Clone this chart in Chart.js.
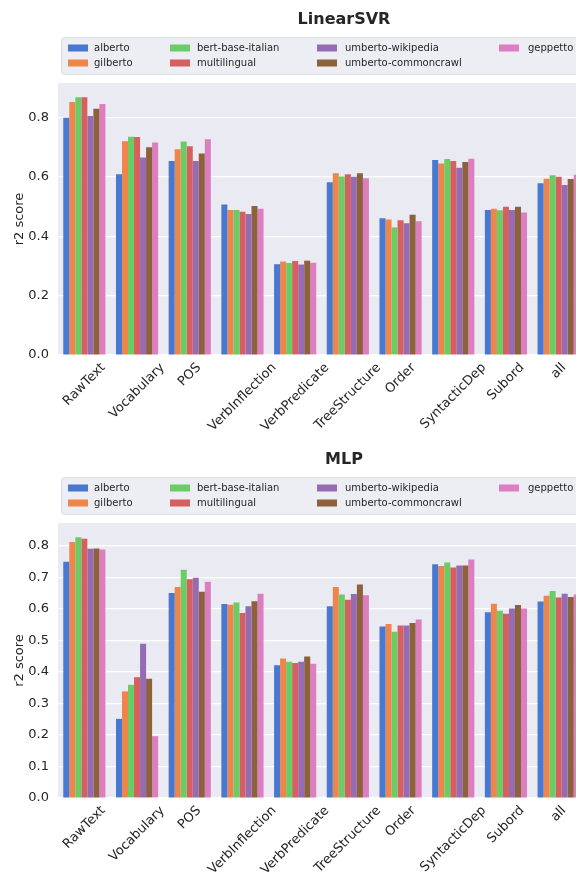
<!DOCTYPE html>
<html>
<head>
<meta charset="utf-8">
<script src="https://cdn.jsdelivr.net/npm/chart.js@4/dist/chart.umd.min.js"></script>
<style>
    html, body { margin:0; padding:0; background:#fff; overflow:hidden; }
    #page { position:relative; width:576px; height:876px; overflow:hidden; }
    #page canvas { position:absolute; left:0; }
</style>
</head>
<body>
<div id="page">
    <canvas id="svrChart" width="600" height="440" style="top:0px"></canvas>
    <canvas id="mlpChart" width="600" height="436" style="top:440px"></canvas>
</div>
<script>
const categories = ['RawText','Vocabulary','POS','VerbInflection','VerbPredicate','TreeStructure','Order','SyntacticDep','Subord','all']
const models = ['alberto','gilberto','bert-base-italian','multilingual','umberto-wikipedia','umberto-commoncrawl','geppetto']
const modelColors = ['#4878D0','#EE854A','#6ACC64','#D65F5F','#956CB4','#8C613C','#DC7EC0']

// LinearSVR r2 scores, one array per model
const svrAlberto   = [0.800, 0.609, 0.654, 0.507, 0.306, 0.582, 0.461, 0.657, 0.489, 0.579]
const svrGilberto  = [0.853, 0.721, 0.694, 0.489, 0.315, 0.613, 0.457, 0.646, 0.493, 0.594]
const svrBert      = [0.869, 0.736, 0.720, 0.489, 0.310, 0.602, 0.430, 0.661, 0.488, 0.606]
const svrMulti     = [0.869, 0.735, 0.704, 0.483, 0.317, 0.609, 0.454, 0.654, 0.500, 0.601]
const svrUmbWiki   = [0.806, 0.666, 0.654, 0.475, 0.305, 0.601, 0.444, 0.631, 0.489, 0.573]
const svrUmbCC     = [0.830, 0.700, 0.679, 0.502, 0.318, 0.613, 0.473, 0.651, 0.500, 0.593]
const svrGeppetto  = [0.846, 0.716, 0.727, 0.493, 0.311, 0.596, 0.451, 0.662, 0.480, 0.608]

// MLP r2 scores
const mlpAlberto   = [0.749, 0.251, 0.650, 0.615, 0.421, 0.608, 0.544, 0.741, 0.589, 0.623]
const mlpGilberto  = [0.812, 0.338, 0.669, 0.613, 0.442, 0.669, 0.552, 0.736, 0.616, 0.641]
const mlpBert      = [0.827, 0.359, 0.724, 0.620, 0.432, 0.645, 0.527, 0.747, 0.594, 0.656]
const mlpMulti     = [0.822, 0.383, 0.694, 0.587, 0.428, 0.629, 0.547, 0.731, 0.584, 0.636]
const mlpUmbWiki   = [0.790, 0.489, 0.698, 0.608, 0.432, 0.647, 0.547, 0.737, 0.601, 0.648]
const mlpUmbCC     = [0.791, 0.378, 0.654, 0.624, 0.449, 0.677, 0.555, 0.737, 0.612, 0.637]
const mlpGeppetto  = [0.788, 0.196, 0.686, 0.648, 0.426, 0.643, 0.566, 0.756, 0.601, 0.645]

const svrTicks = [0.0, 0.2, 0.4, 0.6, 0.8]
const mlpTicks = [0.0, 0.1, 0.2, 0.3, 0.4, 0.5, 0.6, 0.7, 0.8]

const textColor = '#262626'
const font = 'DejaVu Sans'

// draws plot background, title, legend box, rotated x labels and y title
const decorPlugin = {
    id: 'decor',
    beforeDraw(chart, args, opts) {
        const {ctx, chartArea} = chart
        ctx.save()
        ctx.fillStyle = '#EAEAF2'
        ctx.fillRect(chartArea.left, chartArea.top, chartArea.right - chartArea.left, chartArea.bottom - chartArea.top)
        ctx.restore()
    },
    afterDraw(chart, args, opts) {
        const {ctx, chartArea} = chart
        ctx.save()

        // title
        ctx.fillStyle = textColor
        ctx.font = `bold 16px "${font}"`
        ctx.textAlign = 'center'
        ctx.textBaseline = 'middle'
        ctx.fillText(opts.title, 344, opts.titleY)

        // legend frame
        const boxTop = opts.legendY
        ctx.fillStyle = '#EDEDF4'
        ctx.strokeStyle = '#DCDCE3'
        ctx.lineWidth = 1
        ctx.beginPath()
        ctx.roundRect(61.5, boxTop + 0.5, 560, 37, 3)
        ctx.fill()
        ctx.stroke()

        // legend entries, filled column by column
        const colSwatch = [68, 170, 317, 499]
        const colText = [94, 197, 345, 528]
        ctx.font = `10px "${font}"`
        ctx.textAlign = 'left'
        chart.data.datasets.forEach((ds, i) => {
            const col = Math.floor(i / 2)
            const row = i % 2
            const y = boxTop + 11 + row * 15
            ctx.fillStyle = ds.backgroundColor
            ctx.fillRect(colSwatch[col], y - 3.5, 20, 7)
            ctx.fillStyle = textColor
            ctx.fillText(ds.label, colText[col], y)
        })

        // rotated category labels, centred under each group like matplotlib
        const xScale = chart.scales.x
        ctx.font = `13px "${font}"`
        ctx.textAlign = 'center'
        ctx.textBaseline = 'middle'
        const h = 13
        chart.data.labels.forEach((label, i) => {
            const x = xScale.getPixelForValue(i)
            const w = ctx.measureText(label).width
            const y = chartArea.bottom + 6 + (w + h) * Math.SQRT1_2 / 2
            ctx.save()
            ctx.translate(x, y)
            ctx.rotate(-Math.PI / 4)
            ctx.fillText(label, 0, 0)
            ctx.restore()
        })

        // y axis title
        ctx.save()
        ctx.translate(20, (chartArea.top + chartArea.bottom) / 2)
        ctx.rotate(-Math.PI / 2)
        ctx.font = `13px "${font}"`
        ctx.fillText('r2 score', 0, 0)
        ctx.restore()

        ctx.restore()
    }
}

const makeChart = (canvasId, title, series, yMax, tickValues, padTop, padBottom) => {
    const ctx = document.getElementById(canvasId).getContext('2d')
    return new Chart(ctx, {
        type: 'bar',
        data: {
            labels: categories,
            datasets: models.map((name, i) => ({
                label: name,
                data: series[i],
                backgroundColor: modelColors[i],
                borderWidth: 0,
                categoryPercentage: 0.8,
                barPercentage: 1.0
            }))
        },
        options: {
            responsive: false,
            animation: false,
            layout: {
                padding: { top: padTop, bottom: padBottom, left: 0, right: 15 }
            },
            plugins: {
                legend: { display: false },
                tooltip: { enabled: false },
                decor: { title: title, titleY: 20, legendY: 37 }
            },
            scales: {
                x: {
                    ticks: { display: false },
                    grid: { display: false },
                    border: { display: false },
                    afterFit: (scale) => { scale.height = 0 }
                },
                y: {
                    min: 0,
                    max: yMax,
                    afterBuildTicks: (scale) => {
                        scale.ticks = tickValues.map(v => ({ value: v }))
                    },
                    afterFit: (scale) => { scale.width = 58 },
                    ticks: {
                        padding: 9,
                        color: textColor,
                        font: { size: 13, family: font },
                        callback: (v) => Number(v).toFixed(1)
                    },
                    grid: { color: '#ffffff', lineWidth: 1.2, drawTicks: false },
                    border: { display: false }
                }
            }
        },
        plugins: [decorPlugin]
    })
}

makeChart('svrChart', 'LinearSVR',
    [svrAlberto, svrGilberto, svrBert, svrMulti, svrUmbWiki, svrUmbCC, svrGeppetto],
    0.917, svrTicks, 83, 85)

makeChart('mlpChart', 'MLP',
    [mlpAlberto, mlpGilberto, mlpBert, mlpMulti, mlpUmbWiki, mlpUmbCC, mlpGeppetto],
    0.872, mlpTicks, 83, 78)
</script>
</body>
</html>
